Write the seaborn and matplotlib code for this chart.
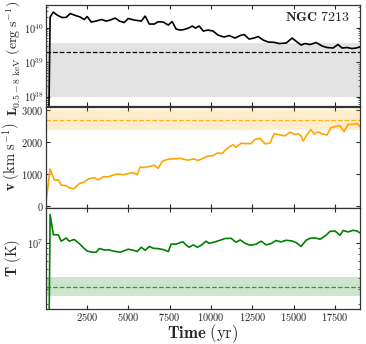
import numpy as np
import pandas as pd
import matplotlib
matplotlib.use("Agg")
import matplotlib.pyplot as plt
import matplotlib.ticker as mticker
import seaborn as sns

sns.set_style("ticks")
plt.rcParams["mathtext.fontset"] = "cm"
plt.rcParams["font.family"] = ["DejaVu Serif"]

# ---- data ----
t_L = [0, 280, 470, 700, 1000, 1250, 1490, 1790, 2100, 2340, 2520, 2760, 3060, 3370, 3670,
       3910, 4210, 4460, 4750, 5000, 5360, 5790, 6020, 6270, 6570, 6810, 7110, 7420, 7650, 7890,
       8130, 8310, 8640, 8870, 9060, 9290, 9530, 9820, 10120, 10420, 10790, 11090, 11450, 11760,
       12000, 12300, 12600, 12850, 13150, 13450, 13810, 14110, 14540, 14900, 15200, 15440, 15680,
       15980, 16350, 16710, 17010, 17370, 17670, 17920, 18220, 18520, 18760, 19000]
logL = [30.0, 40.310, 40.455, 40.368, 40.296, 40.301, 40.412, 40.359, 40.310, 40.238,
        40.325, 40.165, 40.194, 40.238, 40.194, 40.223, 40.281, 40.194, 40.151, 40.267,
        40.223, 40.194, 40.339, 40.107, 40.107, 40.174, 40.165, 40.078, 40.180, 39.962,
        39.933, 39.942, 39.991, 40.049, 39.991, 40.049, 39.904, 39.933, 39.904, 39.788,
        39.730, 39.774, 39.701, 39.774, 39.803, 39.672, 39.701, 39.745, 39.643, 39.586,
        39.577, 39.542, 39.557, 39.701, 39.586, 39.499, 39.542, 39.513, 39.571, 39.470,
        39.426, 39.412, 39.513, 39.412, 39.426, 39.397, 39.412, 39.441]

t_v = [0, 280, 530, 770, 950, 1250, 1490, 1730, 2040, 2340, 2580, 2940, 3180, 3490, 3790,
       4090, 4390, 4700, 5000, 5300, 5540, 5720, 6020, 6330, 6570, 6810, 7050, 7290, 7590, 7890,
       8130, 8310, 8640, 8930, 9230, 9530, 9820, 10120, 10360, 10670, 11030, 11330, 11510, 11820,
       12060, 12420, 12660, 12960, 13270, 13570, 13810, 14170, 14470, 14780, 15080, 15260, 15440,
       15570, 15800, 16040, 16230, 16470, 16710, 17010, 17250, 17550, 17790, 18040, 18280, 18580,
       18820, 19000]
v = [0, 1160, 820, 820, 660, 630, 560, 545, 700, 750, 850, 890, 820, 915, 915,
     970, 1010, 980, 1020, 1050, 980, 1220, 1210, 1250, 1280, 1180, 1400, 1450, 1480, 1480,
     1500, 1470, 1440, 1480, 1430, 1500, 1570, 1580, 1660, 1650, 1830, 1920, 1840, 1970, 1960,
     1960, 2090, 2120, 1950, 1980, 2270, 2230, 2200, 2320, 2240, 2270, 2200, 2040, 2240, 2400,
     2260, 2330, 2260, 2230, 2460, 2500, 2520, 2330, 2560, 2560, 2590, 2490]

t_T = [0, 280, 470, 770, 950, 1250, 1430, 1730, 2040, 2280, 2520, 2820, 3060, 3250, 3550,
       3850, 4090, 4510, 5000, 5360, 5540, 5790, 6020, 6270, 6510, 6810, 7110, 7420, 7590, 7890,
       8190, 8310, 8490, 8670, 8930, 9170, 9410, 9700, 9880, 10240, 10540, 10850, 11210, 11510,
       11760, 12060, 12360, 12720, 13030, 13330, 13630, 13930, 14230, 14540, 14900, 15140, 15440,
       15740, 15980, 16290, 16590, 16950, 17190, 17490, 17790, 17980, 18280, 18580, 18820, 19000]
logT = [3.0, 7.245, 7.072, 7.069, 7.015, 7.043, 7.015, 7.030, 6.995, 6.960,
        6.930, 6.920, 6.920, 6.952, 6.940, 6.940, 6.930, 6.920, 6.946, 6.935,
        6.926, 6.963, 6.937, 6.970, 6.954, 6.951, 6.943, 6.926, 6.990, 6.990,
        7.006, 7.009, 6.983, 6.963, 6.983, 6.963, 6.980, 7.015, 6.997, 7.009,
        7.023, 7.038, 7.040, 7.006, 7.026, 6.997, 6.980, 6.989, 7.015, 6.983,
        6.995, 7.021, 7.009, 7.023, 7.017, 7.003, 6.970, 7.023, 7.040, 7.043,
        7.032, 7.066, 7.100, 7.103, 7.066, 7.107, 7.095, 7.109, 7.103, 7.086]

# observed values and ranges
L_obs, L_lo, L_hi = 2.0e39, 1.0e38, 3.5e39
v_obs, v_lo, v_hi = 2700, 2400, 3020
T_obs, T_lo, T_hi = 4.18e6, 3.5e6, 5.04e6

x_ticks = [2500, 5000, 7500, 10000, 12500, 15000, 17500]
title_text = "NGC 7213"

dfL = pd.DataFrame({"t": t_L, "L": 10 ** np.array(logL)})
dfv = pd.DataFrame({"t": t_v, "v": v})
dfT = pd.DataFrame({"t": t_T, "T": 10 ** np.array(logT)})

# ---- figure ----
W, H = 366, 344
fig = plt.figure(figsize=(W / 100, H / 100), dpi=100)
left = 45.5 / W
width = (360 - 45.5) / W

def ax_at(top_px, bot_px):
    return fig.add_axes([left, 1 - bot_px / H, width, (bot_px - top_px) / H])

ax1 = ax_at(5, 106)
ax2 = ax_at(106.5, 208)
ax3 = ax_at(208, 309)

lw = 1.2
sns.lineplot(data=dfL, x="t", y="L", ax=ax1, color="black", lw=lw)
sns.lineplot(data=dfv, x="t", y="v", ax=ax2, color="orange", lw=lw)
sns.lineplot(data=dfT, x="t", y="T", ax=ax3, color="green", lw=lw)

ax1.set_yscale("log")
ax3.set_yscale("log")

ax1.axhspan(L_lo, L_hi, color="grey", alpha=0.22, lw=0)
ax1.axhline(L_obs, color="black", ls="--", lw=0.9)
ax2.axhspan(v_lo, v_hi, color="orange", alpha=0.2, lw=0)
ax2.axhline(v_obs, color="orange", ls="--", lw=0.9, alpha=0.85)
ax3.axhspan(T_lo, T_hi, color="green", alpha=0.2, lw=0)
ax3.axhline(T_obs, color="green", ls="--", lw=0.9, alpha=0.75)

ax1.set_ylim(10 ** 37.73, 10 ** 40.66)
ax2.set_ylim(-63, 3123)
ax3.set_ylim(10 ** 6.431, 10 ** 7.301)

math_fmt = mticker.FuncFormatter(lambda x, p: r"$%d$" % int(round(x)))
log_fmt = mticker.FuncFormatter(lambda x, p: r"$10^{%d}$" % int(round(np.log10(x))))

for ax in (ax1, ax2, ax3):
    ax.set_xlim(0, 19000)
    ax.set_xticks(x_ticks)
    ax.tick_params(direction="in", top=True, right=True, labelsize=7.5, length=3,
                   width=0.8, pad=1.5)
    ax.tick_params(which="minor", direction="in", right=True, length=1.5, width=0.5)
    for s in ax.spines.values():
        s.set_linewidth(0.9)
        s.set_color("#333333")
    ax.set_xlabel("")

ax1.set_yticks([1e38, 1e39, 1e40])
ax1.yaxis.set_major_formatter(log_fmt)
ax1.yaxis.set_minor_formatter(mticker.NullFormatter())
ax3.set_yticks([1e7])
ax3.yaxis.set_major_formatter(log_fmt)
ax3.yaxis.set_minor_formatter(mticker.NullFormatter())
ax2.set_yticks([0, 1000, 2000, 3000])
ax2.yaxis.set_major_formatter(math_fmt)

ax1.tick_params(labelbottom=False)
ax2.tick_params(labelbottom=False)
ax3.xaxis.set_major_formatter(math_fmt)

ax1.set_ylabel(r"$\mathbf{L}_{0.5-8\ \mathrm{keV}}\ (\mathrm{erg\ s^{-1}})$", fontsize=10)
ax2.set_ylabel(r"$\mathbf{v}\ (\mathrm{km\ s^{-1}})$", fontsize=10.5)
ax3.set_ylabel(r"$\mathbf{T}\ (\mathrm{K})$", fontsize=10.5)
ax3.set_xlabel(r"$\mathbf{Time}\ (\mathrm{yr})$", fontsize=12)
for ax in (ax1, ax2, ax3):
    ax.yaxis.set_label_coords(-0.072, 0.5)
ax1.yaxis.set_label_coords(-0.072, 0.47)
ax3.xaxis.set_label_coords(0.5, -0.13)

ax1.text(0.97, 0.88, r"$\mathbf{NGC\ 7213}$", transform=ax1.transAxes,
         ha="right", va="center", fontsize=10)

fig.savefig("out.png", dpi=100)
